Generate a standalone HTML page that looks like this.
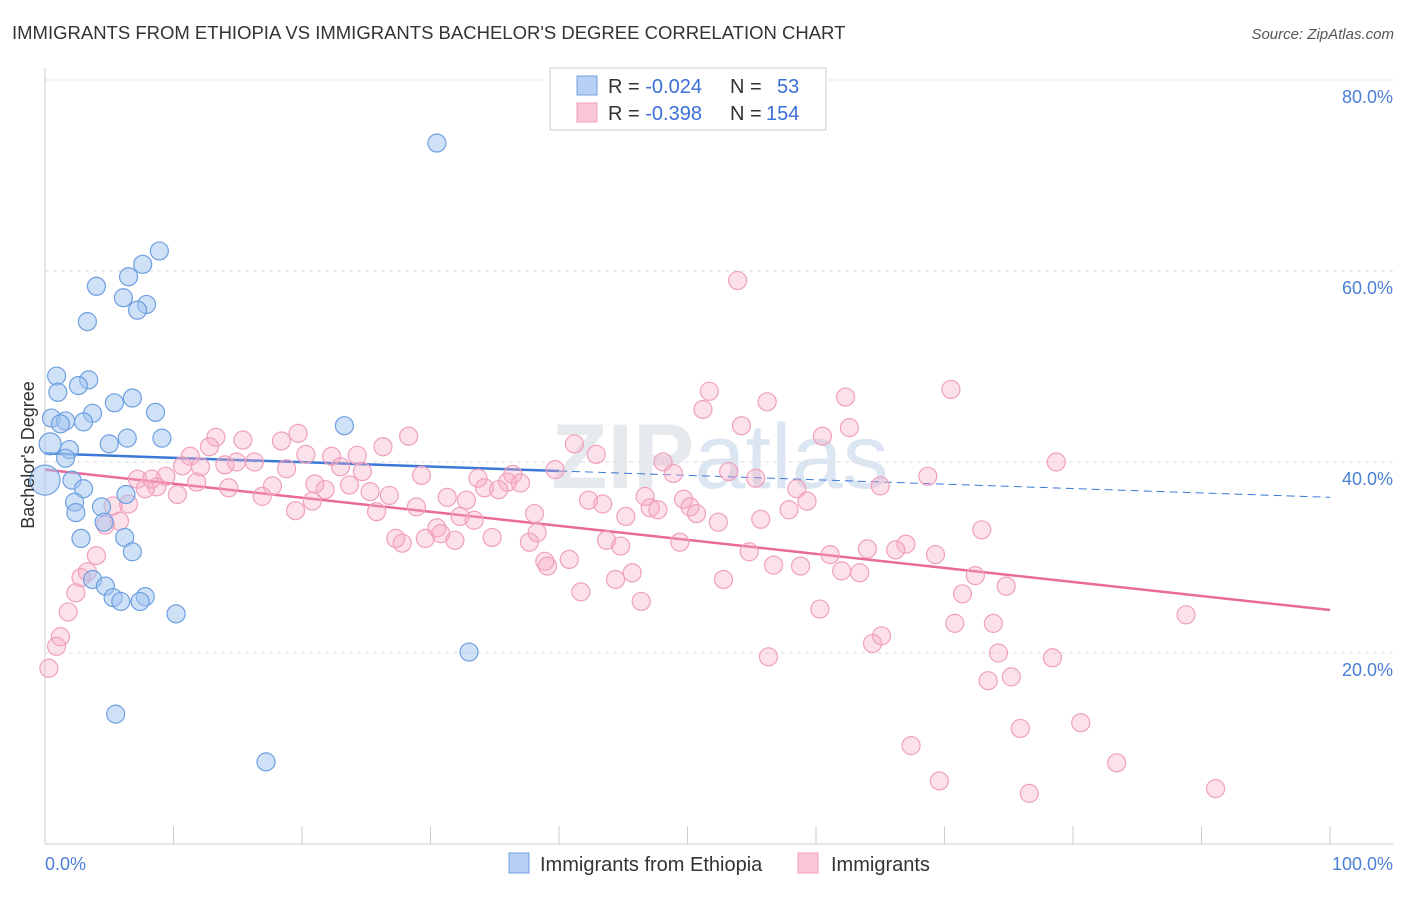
<!DOCTYPE html>
<html><head><meta charset="utf-8"><style>
body{margin:0;background:#fff;font-family:"Liberation Sans",sans-serif}
svg text{font-family:"Liberation Sans",sans-serif}
</style></head><body>
<svg id="chart" width="1406" height="892" xmlns="http://www.w3.org/2000/svg">
<text x="12" y="39" font-size="18.5" fill="#333">IMMIGRANTS FROM ETHIOPIA VS IMMIGRANTS BACHELOR'S DEGREE CORRELATION CHART</text>
<text x="1394" y="39" font-size="15" fill="#555" font-style="italic" text-anchor="end">Source: ZipAtlas.com</text>
<text x="720" y="488" font-size="92" fill="#e6e9ee" text-anchor="middle" font-weight="bold">ZIP<tspan font-weight="normal" fill="#dce6f3">atlas</tspan></text>
<g id="grid"></g>
<g id="axes"></g>
<g id="trends"></g>
<g id="dots"></g>
<text transform="translate(34,455) rotate(-90)" font-size="18" fill="#333" text-anchor="middle">Bachelor's Degree</text>
<g>
<rect x="550" y="68" width="276" height="62" fill="#fff" stroke="#ccc"/>
<rect x="577" y="76" width="20" height="19" fill="#b7d0f3" stroke="#6e9fe0"/>
<rect x="577" y="103" width="20" height="19" fill="#f8c6d6" stroke="#f0a0bc"/>
<text x="608" y="93" font-size="20" fill="#333">R = <tspan fill="#3b6fd8">-0.024</tspan><tspan x="730">N =</tspan><tspan x="777" fill="#3b6fd8">53</tspan></text>
<text x="608" y="120" font-size="20" fill="#333">R = <tspan fill="#3b6fd8">-0.398</tspan><tspan x="730">N =</tspan><tspan x="766" fill="#3b6fd8">154</tspan></text>
</g>
<g>
<rect x="509" y="853" width="20" height="20" fill="#b7d0f3" stroke="#6e9fe0"/>
<text x="540" y="871" font-size="20" fill="#333">Immigrants from Ethiopia</text>
<rect x="798" y="853" width="20" height="20" fill="#f8c6d6" stroke="#f0a0bc"/>
<text x="831" y="871" font-size="20" fill="#333">Immigrants</text>
</g>
</svg>
<script>
const yTicks=[20,40,60,80];
const yTickLabels=["20.0%","40.0%","60.0%","80.0%"];
const xTicks=[0,10,20,30,40,50,60,70,80,90,100];
const blueX=[30.5,8.9,7.6,6.5,4.0,6.1,7.9,7.2,3.3,0.9,3.4,2.6,1.0,6.8,5.4,8.6,3.7,0.5,1.6,3.0,1.2,23.3,6.4,9.1,5.0,0.4,1.9,1.6,0,2.1,3.0,6.3,2.3,4.4,2.4,4.6,2.8,6.2,6.8,3.7,4.7,5.3,5.9,7.8,7.4,10.2,33.0,5.5,17.2];
const blueY=[73.4,62.1,60.7,59.4,58.4,57.2,56.5,55.9,54.7,49.0,48.6,48.0,47.3,46.7,46.2,45.2,45.1,44.6,44.3,44.2,44.0,43.8,42.5,42.5,41.9,41.9,41.3,40.4,38.1,38.1,37.2,36.6,35.8,35.3,34.7,33.7,32.0,32.1,30.6,27.7,27.0,25.8,25.4,25.9,25.4,24.1,20.1,13.6,8.6];
const blueR=[9,9,9,9,9,9,9,9,9,9,9,9,9,9,9,9,9,9,9,9,9,9,9,9,9,11,9,9,15,9,9,9,9,9,9,9,9,9,9,9,9,9,9,9,9,9,9,9,9];
const pinkX=[53.9,70.5,51.7,62.3,56.2,51.2,54.2,62.6,60.5,28.3,19.7,13.3,15.4,18.4,26.3,41.2,12.8,11.3,20.3,22.3,24.3,42.9,78.7,48.1,14.0,14.9,16.3,10.7,12.1,18.8,23.0,24.7,39.7,36.4,48.9,53.2,55.3,68.7,7.2,8.3,9.4,11.8,29.3,33.7,36.0,37.0,21.0,21.8,23.7,17.7,14.3,8.7,7.8,34.2,35.3,65.0,58.5,10.3,16.9,25.3,26.8,31.3,32.8,46.7,49.7,59.3,20.8,6.5,5.3,42.3,43.4,28.9,50.2,47.1,47.7,19.5,25.8,32.3,38.1,50.7,45.2,57.9,33.4,55.7,52.4,5.8,4.7,30.5,30.8,38.3,72.9,27.3,27.8,29.6,31.9,34.8,37.7,43.7,44.8,49.4,67.0,66.2,64.0,69.3,61.1,54.8,4.0,38.9,40.8,39.1,56.7,58.8,62.0,63.4,45.7,72.4,2.8,3.3,44.4,52.8,74.8,41.7,71.4,2.4,46.4,1.8,60.3,88.8,70.8,73.8,65.1,64.4,1.2,0.9,74.2,78.4,56.3,0.3,75.2,73.4,80.6,75.9,67.4,83.4,69.6,91.1,76.6];
const pinkY=[59.0,47.6,47.4,46.8,46.3,45.5,43.8,43.6,42.7,42.7,43.0,42.6,42.3,42.2,41.6,41.9,41.6,40.6,40.8,40.6,40.7,40.8,40.0,40.0,39.7,40.0,40.0,39.6,39.5,39.3,39.5,39.0,39.2,38.7,38.8,39.0,38.3,38.5,38.2,38.2,38.5,37.9,38.6,38.3,37.9,37.8,37.7,37.1,37.6,37.5,37.3,37.4,37.2,37.3,37.1,37.5,37.2,36.6,36.4,36.9,36.5,36.3,36.0,36.4,36.1,35.9,35.9,35.6,35.4,36.0,35.6,35.3,35.3,35.2,35.0,34.9,34.8,34.3,34.6,34.6,34.3,35.0,33.9,34.0,33.7,33.8,33.4,33.1,32.5,32.6,32.9,32.0,31.5,32.0,31.8,32.1,31.6,31.8,31.2,31.6,31.4,30.8,30.9,30.3,30.3,30.6,30.2,29.6,29.8,29.1,29.2,29.1,28.6,28.4,28.4,28.1,27.9,28.5,27.7,27.7,27.0,26.4,26.2,26.3,25.4,24.3,24.6,24.0,23.1,23.1,21.8,21.0,21.7,20.7,20.0,19.5,19.6,18.4,17.5,17.1,12.7,12.1,10.3,8.5,6.6,5.8,5.3];
const blueTrend=[40.9,36.3];
const blueSolidEnd=40;
const pinkTrend=[39.2,24.5];

const NS="http://www.w3.org/2000/svg";
const X0=45,X1=1330,Y0=844,PX=9.55;
const sx=v=>X0+(X1-X0)*v/100;
const sy=v=>Y0-v*PX;
function mk(tag,attrs,parent){const e=document.createElementNS(NS,tag);for(const k in attrs)e.setAttribute(k,attrs[k]);document.getElementById(parent).appendChild(e);return e;}
yTicks.forEach((t,i)=>{
  const l=mk('line',{x1:X0,x2:1393,y1:sy(t),y2:sy(t),stroke:'#ddd','stroke-dasharray':'4,4'},'grid');
  
  
  const tx=mk('text',{x:1393,y:sy(t)+23,'font-size':18,fill:'#4a7fd6','text-anchor':'end'},'grid');
  tx.textContent=yTickLabels[i];
  
  
});
const ya=mk('line',{x1:X0,x2:X0,y1:68,y2:Y0,stroke:'#ccc'},'axes');


const xa=mk('line',{x1:X0,x2:1393,y1:Y0,y2:Y0,stroke:'#ccc'},'axes');


xTicks.forEach(t=>{
  const l=mk('line',{x1:sx(t),x2:sx(t),y1:826,y2:Y0,stroke:'#ccc'},'axes');
  
  
});
const xl0=mk('text',{x:45,y:870,'font-size':18,fill:'#4a7fd6'},'axes');xl0.textContent='0.0%';


const xl1=mk('text',{x:1393,y:870,'font-size':18,fill:'#4a7fd6','text-anchor':'end'},'axes');xl1.textContent='100.0%';


const bt=v=>blueTrend[0]+(blueTrend[1]-blueTrend[0])*v/100;
const t1=mk('line',{x1:sx(0),y1:sy(bt(0)),x2:sx(blueSolidEnd),y2:sy(bt(blueSolidEnd)),stroke:'#3c78d8','stroke-width':2.5},'trends');


const t2=mk('line',{x1:sx(blueSolidEnd),y1:sy(bt(blueSolidEnd)),x2:sx(100),y2:sy(bt(100)),stroke:'#3c78d8','stroke-width':1,'stroke-dasharray':'8,5'},'trends');


const t3=mk('line',{x1:sx(0),y1:sy(pinkTrend[0]),x2:sx(100),y2:sy(pinkTrend[1]),stroke:'#e8699a','stroke-width':2.5},'trends');


pinkX.forEach((v,i)=>{
  const c=mk('circle',{cx:sx(v),cy:sy(pinkY[i]),r:9,fill:'rgba(245,170,195,0.35)',stroke:'#f0a0bc','stroke-width':1.2},'dots');
  
  
});
blueX.forEach((v,i)=>{
  const c=mk('circle',{cx:sx(v),cy:sy(blueY[i]),r:blueR[i],fill:'rgba(160,195,240,0.5)',stroke:'#6e9fe0','stroke-width':1.2},'dots');
  
  
});
</script>
</body></html>
